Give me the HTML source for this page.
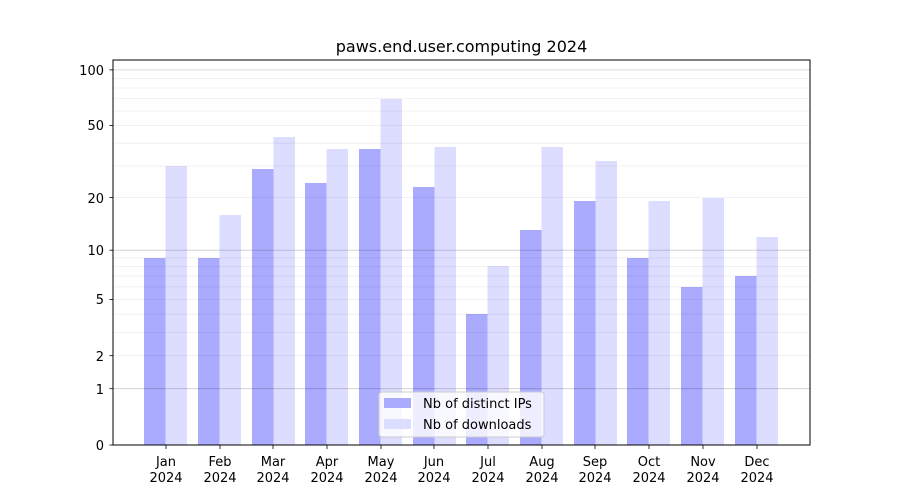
<!DOCTYPE html>
<html><head><meta charset="utf-8"><style>body{margin:0;background:#fff}svg{display:block}text{font-family:"DejaVu Sans","Liberation Sans",sans-serif;fill:#000}</style></head><body>
<svg width="900" height="500" viewBox="0 0 900 500" xmlns="http://www.w3.org/2000/svg">
<rect width="900" height="500" fill="#fff"/>
<g fill="#aaaaff">
<rect x="144" y="258" width="21.5" height="187"/>
<rect x="198" y="258" width="21.5" height="187"/>
<rect x="252" y="169" width="21.5" height="276"/>
<rect x="305" y="183" width="21.5" height="262"/>
<rect x="359" y="149" width="21.5" height="296"/>
<rect x="413" y="187" width="21.5" height="258"/>
<rect x="466" y="314" width="21.5" height="131"/>
<rect x="520" y="230" width="21.5" height="215"/>
<rect x="574" y="201" width="21.5" height="244"/>
<rect x="627" y="258" width="21.5" height="187"/>
<rect x="681" y="287" width="21.5" height="158"/>
<rect x="735" y="276" width="21.5" height="169"/>
</g>
<g fill="#ddddff">
<rect x="165.5" y="166" width="21.5" height="279"/>
<rect x="219.5" y="215" width="21.5" height="230"/>
<rect x="273.5" y="137" width="21.5" height="308"/>
<rect x="326.5" y="149" width="21.5" height="296"/>
<rect x="380.5" y="99" width="21.5" height="346"/>
<rect x="434.5" y="147" width="21.5" height="298"/>
<rect x="487.5" y="266" width="21.5" height="179"/>
<rect x="541.5" y="147" width="21.5" height="298"/>
<rect x="595.5" y="161" width="21.5" height="284"/>
<rect x="648.5" y="201" width="21.5" height="244"/>
<rect x="702.5" y="198" width="21.5" height="247"/>
<rect x="756.5" y="237" width="21.5" height="208"/>
</g>
<g stroke="#000" stroke-opacity="0.07" stroke-width="0.8">
<line x1="113" x2="810" y1="355.7" y2="355.7"/><line x1="113" x2="810" y1="332.4" y2="332.4"/><line x1="113" x2="810" y1="314.2" y2="314.2"/><line x1="113" x2="810" y1="299.4" y2="299.4"/><line x1="113" x2="810" y1="286.9" y2="286.9"/><line x1="113" x2="810" y1="276" y2="276"/><line x1="113" x2="810" y1="266.5" y2="266.5"/><line x1="113" x2="810" y1="257.9" y2="257.9"/>
<line x1="113" x2="810" y1="197.6" y2="197.6"/><line x1="113" x2="810" y1="166" y2="166"/><line x1="113" x2="810" y1="143.2" y2="143.2"/><line x1="113" x2="810" y1="125.5" y2="125.5"/><line x1="113" x2="810" y1="111" y2="111"/><line x1="113" x2="810" y1="98.6" y2="98.6"/><line x1="113" x2="810" y1="88" y2="88"/><line x1="113" x2="810" y1="78.4" y2="78.4"/>
</g>
<g stroke="#000" stroke-opacity="0.2" stroke-width="0.8">
<line x1="113" x2="810" y1="388.7" y2="388.7"/><line x1="113" x2="810" y1="250.2" y2="250.2"/><line x1="113" x2="810" y1="69.9" y2="69.9"/>
</g>
<rect x="113" y="60" width="697" height="385" fill="none" stroke="#000" stroke-width="1"/>
<g stroke="#000" stroke-width="0.8">
<line x1="109.5" x2="113" y1="445" y2="445"/><line x1="109.5" x2="113" y1="388.7" y2="388.7"/><line x1="109.5" x2="113" y1="355.7" y2="355.7"/><line x1="109.5" x2="113" y1="299.4" y2="299.4"/><line x1="109.5" x2="113" y1="250.2" y2="250.2"/><line x1="109.5" x2="113" y1="197.6" y2="197.6"/><line x1="109.5" x2="113" y1="125.5" y2="125.5"/><line x1="109.5" x2="113" y1="69.9" y2="69.9"/>
</g>
<g font-size="13" text-anchor="end">
<text x="104" y="450">0</text><text x="104" y="394">1</text><text x="104" y="361">2</text><text x="104" y="304">5</text><text x="104" y="255">10</text><text x="104" y="203">20</text><text x="104" y="130">50</text><text x="104" y="75">100</text>
</g>
<g stroke="#000" stroke-width="0.8">
<line x1="166" x2="166" y1="445" y2="449"/><line x1="220" x2="220" y1="445" y2="449"/><line x1="273" x2="273" y1="445" y2="449"/><line x1="327" x2="327" y1="445" y2="449"/><line x1="381" x2="381" y1="445" y2="449"/><line x1="434" x2="434" y1="445" y2="449"/><line x1="488" x2="488" y1="445" y2="449"/><line x1="542" x2="542" y1="445" y2="449"/><line x1="595" x2="595" y1="445" y2="449"/><line x1="649" x2="649" y1="445" y2="449"/><line x1="703" x2="703" y1="445" y2="449"/><line x1="757" x2="757" y1="445" y2="449"/>
</g>
<g font-size="13" text-anchor="middle">
<text x="166" y="466">Jan</text><text x="220" y="466">Feb</text><text x="273" y="466">Mar</text><text x="327" y="466">Apr</text><text x="381" y="466">May</text><text x="434" y="466">Jun</text><text x="488" y="466">Jul</text><text x="542" y="466">Aug</text><text x="595" y="466">Sep</text><text x="649" y="466">Oct</text><text x="703" y="466">Nov</text><text x="757" y="466">Dec</text>
<text x="166" y="482">2024</text><text x="220" y="482">2024</text><text x="273" y="482">2024</text><text x="327" y="482">2024</text><text x="381" y="482">2024</text><text x="434" y="482">2024</text><text x="488" y="482">2024</text><text x="542" y="482">2024</text><text x="595" y="482">2024</text><text x="649" y="482">2024</text><text x="703" y="482">2024</text><text x="757" y="482">2024</text>
</g>
<text x="461.5" y="52" font-size="16" text-anchor="middle">paws.end.user.computing 2024</text>
<rect x="379" y="392" width="165" height="45" rx="3" fill="#fff" fill-opacity="0.8" stroke="#ccc"/>
<rect x="384" y="398" width="27" height="10" fill="#aaaaff"/>
<rect x="384" y="419" width="27" height="10" fill="#ddddff"/>
<text x="423" y="408" font-size="13">Nb of distinct IPs</text>
<text x="423" y="429" font-size="13">Nb of downloads</text>
</svg>
</body></html>
